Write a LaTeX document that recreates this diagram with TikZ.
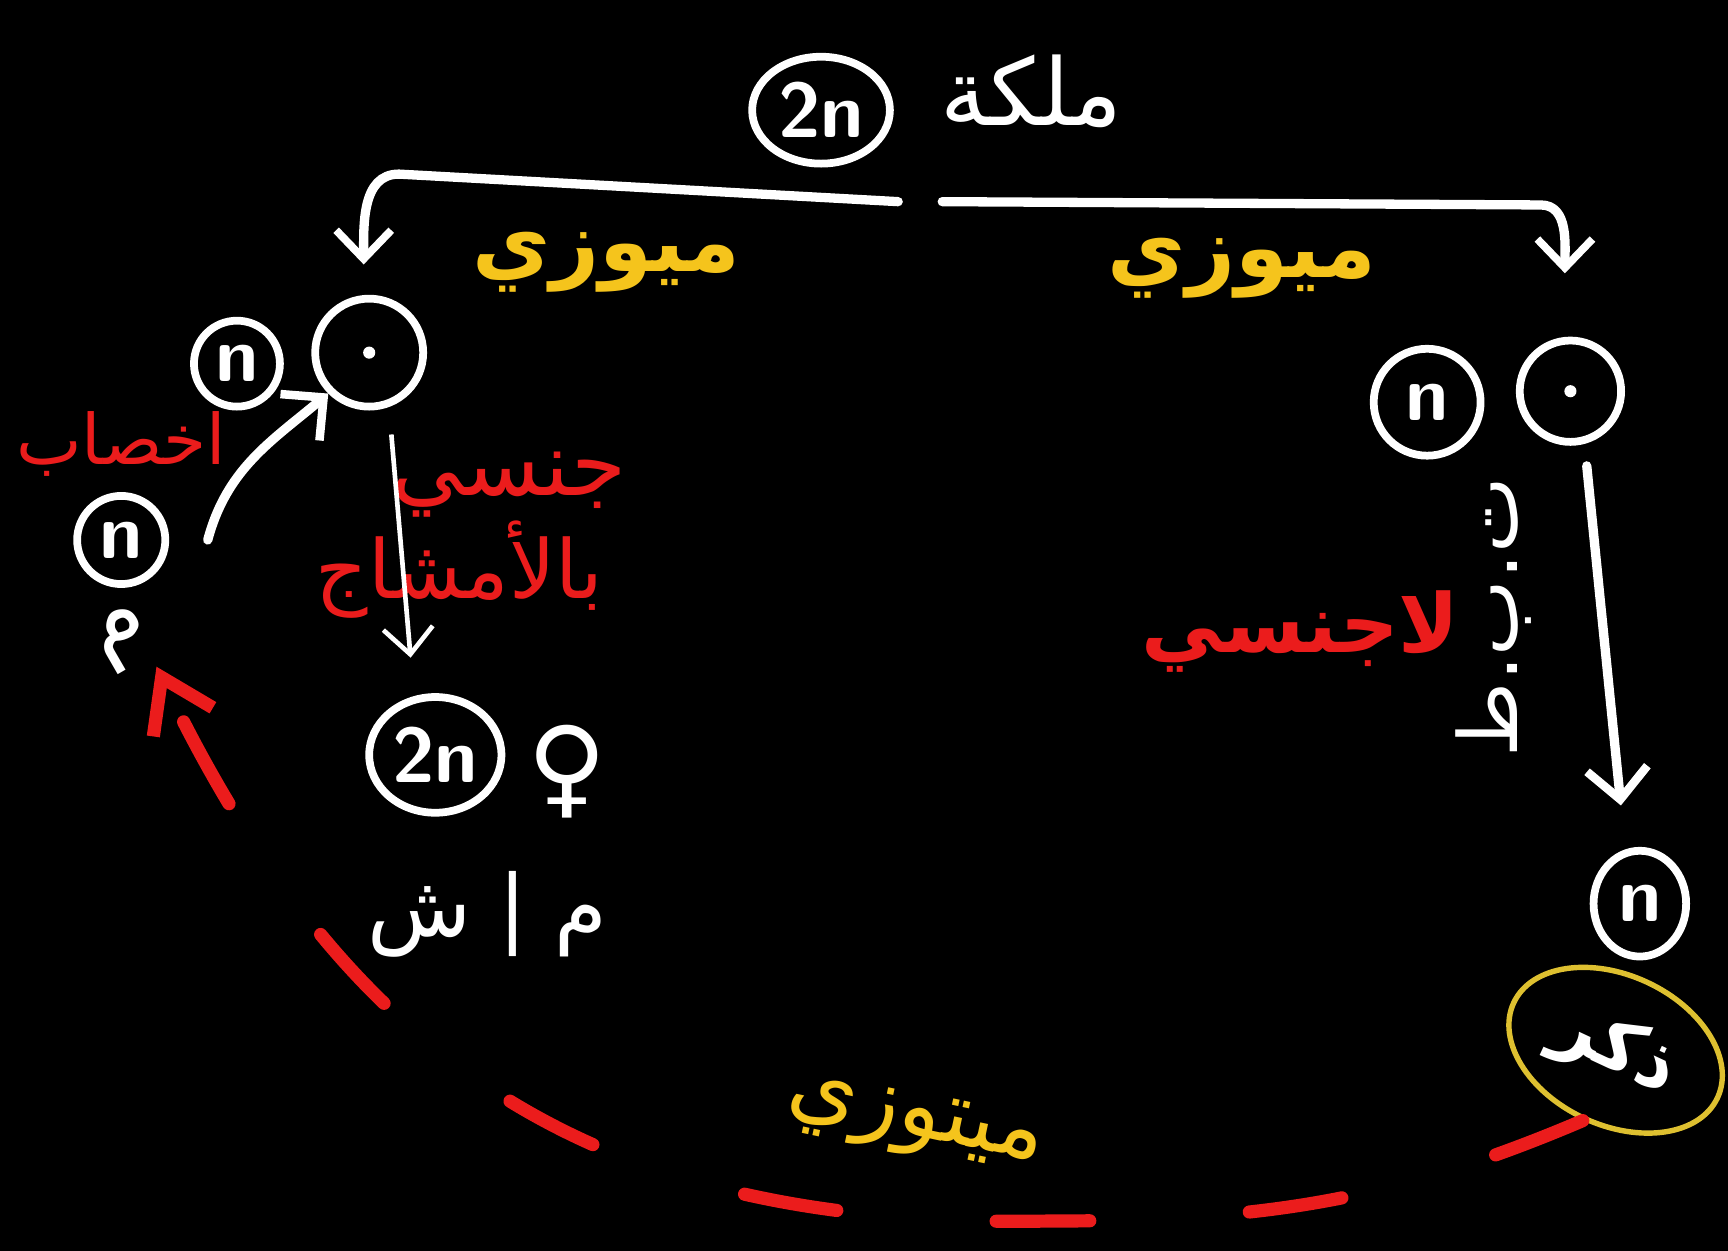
\documentclass[tikz,border=0pt]{standalone}
\usepackage{fontspec}
\usepackage{tikz}
\usetikzlibrary{arrows.meta,shapes.geometric}
\TeXXeTstate=1
\newfontfamily\arabicfont[Script=Arabic]{DejaVu Sans}
\newfontfamily\signfont{DejaVu Sans}
\newcommand{\artxt}[1]{\beginR #1\endR}
\definecolor{chalkyellow}{RGB}{245,196,28}
\definecolor{chalkred}{RGB}{235,28,28}
\definecolor{ringyellow}{RGB}{222,192,48}
\tikzset{
    every node/.style={text=white, inner sep=0pt}
}
\tikzset{
    cell/.style={circle, draw=white, line width=2pt, minimum size=0.8cm,
        font=\sffamily\bfseries\fontsize{20}{22}\selectfont},
    egg/.style={cell, path picture={\fill[white]
        (path picture bounding box.center) circle (0.055);}},
    yellowlbl/.style={text=chalkyellow, font=\arabicfont\bfseries\fontsize{22}{25}\selectfont},
    redlbl/.style={text=chalkred, font=\arabicfont\fontsize{21}{24}\selectfont},
    whitelbl/.style={font=\arabicfont\fontsize{24}{27}\selectfont}
}
\tikzset{
    bracket/.style={draw=white, line width=2.4pt, line cap=round,
        -{Straight Barb[length=2.6mm,width=5mm,line width=2pt]}},
    warrow/.style={draw=white, line width=2.4pt, line cap=round,
        -{Straight Barb[length=2.8mm,width=5.5mm,line width=2.2pt]}},
    thinarrow/.style={draw=white, line width=1.2pt,
        -{Straight Barb[length=2.4mm,width=4.5mm,line width=1.2pt]}},
    backarrow/.style={draw=chalkred, line width=3.4pt, line cap=round,
        dash pattern=on 0.85cm off 1.45cm,
        -{Straight Barb[length=4.5mm,width=6mm,line width=3.4pt]}}
}

\begin{document}
\begin{tikzpicture}
	\fill[black] (0,0) rectangle (15.68,11.35);
	\useasboundingbox (0,0) rectangle (15.68,11.35);
	% queen at the top
	\node [cell, shape=ellipse, minimum width=1.25cm, minimum height=0.97cm] (queen) at (7.45,10.35) {2n};
	\node [whitelbl] (queenlbl) at (9.36,10.52) {\artxt{ملكة}};
	\coordinate (split) at (8.35,9.52);
	\coordinate (tipL) at (3.30,8.95);
	\coordinate (tipR) at (14.20,8.87);
	\draw [bracket] ([xshift=-2mm]split) -- (3.62,9.77) to[out=180,in=90] (tipL);
	\draw [bracket] ([xshift=2mm]split) -- (13.98,9.49) to[out=0,in=90] (tipR);
	\node [yellowlbl] (meioL) at (5.50,8.97) {\artxt{ميوزي}};
	\node [yellowlbl] (meioR) at (11.27,8.92) {\artxt{ميوزي}};
	% left branch
	\node [cell, minimum size=0.78cm] (nL) at (2.15,8.05) {n};
	\node [egg, minimum width=0.92cm, minimum height=0.98cm] (eggL) at (3.35,8.15) {};
	\node [redlbl, font=\arabicfont\fontsize{18}{21}\selectfont] (fert) at (1.10,7.32) {\artxt{اخصاب}};
	\node [cell, minimum size=0.8cm] (nM) at (1.10,6.45) {n};
	\node [whitelbl, rotate=30] (mlbl) at (1.12,5.55) {\artxt{م}};
	\node [redlbl, font=\arabicfont\fontsize{23}{26}\selectfont] (sexA) at (4.62,6.95) {\artxt{جنسي}};
	\node [redlbl] (sexB) at (4.17,6.18) {\artxt{بالأمشاج}};
	\node [cell, shape=ellipse, minimum width=1.2cm, minimum height=1.05cm] (zyg) at (3.95,4.50) {2n};
	\node [font=\signfont\fontsize{28}{30}\selectfont] (fem) at (5.15,4.35) {♀};
	\node [whitelbl, font=\arabicfont\fontsize{22}{25}\selectfont] (qw) at (4.42,3.05) {\artxt{م | ش}};
	\draw [warrow] ([xshift=0.35cm]nM.east) to[out=75,in=220] (eggL.south west);
	\draw [thinarrow, shorten <=0.25cm, shorten >=0.35cm] (eggL.-70) -- (zyg.110);
	% right branch
	\node [cell, minimum size=0.97cm] (nR) at (12.95,7.70) {n};
	\node [egg, minimum size=0.92cm] (eggR) at (14.25,7.80) {};
	\node [whitelbl, rotate=90, font=\arabicfont\fontsize{21}{24}\selectfont] (parth) at (13.55,5.75) {\artxt{ت.ب.ط}};
	\node [redlbl, font=\arabicfont\bfseries\fontsize{21}{24}\selectfont] (asex) at (11.80,5.62) {\artxt{لاجنسي}};
	\node [cell, shape=ellipse, minimum width=0.84cm, minimum height=0.96cm] (nD) at (14.88,3.15) {n};
	\node [ellipse, draw=ringyellow, line width=1.4pt, minimum width=2.04cm,
		minimum height=1.36cm, rotate=-25,
		font=\arabicfont\bfseries\fontsize{19}{22}\selectfont] (ring) at (14.66,1.82) {\artxt{ذكر}};
	\draw [warrow, shorten <=0.2cm, shorten >=0.4cm] (eggR.-75) -- (nD.105);
	% back to the queen
	\node [yellowlbl, rotate=-12, font=\arabicfont\fontsize{23}{26}\selectfont] (mito) at (8.30,1.15) {\artxt{ميتوزي}};
	\coordinate (arcmid) at (9.5,0.27);
	\coordinate (arcend) at (1.42,5.30);
	\draw [backarrow] (ring.south) .. controls (12.6,0.43) and (11.4,0.27) .. (arcmid)
		.. controls (5.5,0.2) and (3.2,1.6) .. (arcend);
\end{tikzpicture}
\end{document}
